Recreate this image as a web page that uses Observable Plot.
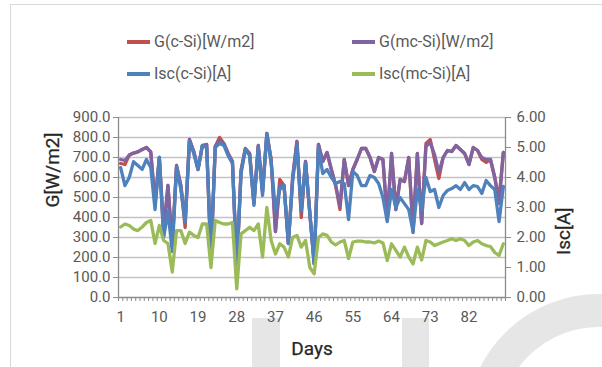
<!DOCTYPE html>
<html><head><meta charset="utf-8">
<script src="https://cdn.jsdelivr.net/npm/d3@7"></script>
<script src="https://cdn.jsdelivr.net/npm/@observablehq/plot@0.6"></script>
<style>
body{margin:0;background:#fff;font-family:Roboto,sans-serif;}
#wrap{position:relative;width:602px;height:367px;overflow:hidden;background:#fff;}
.wm{position:absolute;background:#e6e6e6;}
#arc{position:absolute;left:466px;top:294px;width:200px;height:200px;border:33px solid #e6e6e6;border-radius:50%;}
#frame{position:absolute;left:10px;top:4px;width:600px;height:400px;border-left:1px solid #d9d9d9;border-top:1px solid #d9d9d9;}
.li{position:absolute;font-size:16px;color:#595959;line-height:18px;white-space:nowrap;}
.sw{display:inline-block;width:23px;height:4px;vertical-align:middle;margin-right:4px;position:relative;top:-1px;}
#chart{position:absolute;left:0;top:95px;}
</style></head>
<body><div id="wrap">
<div class="wm" style="left:252px;top:318px;width:28px;height:49px"></div>
<div class="wm" style="left:402px;top:318px;width:27px;height:49px"></div>
<div id="arc"></div>
<div id="frame"></div>
<div id="legend"></div>
<div id="chart"></div>
</div>
<script>
const days = d3.range(1, 91);
const seriesNames = ["G(c-Si)[W/m2]", "G(mc-Si)[W/m2]", "Isc(c-Si)[A]", "Isc(mc-Si)[A]"];
const seriesColors = ["#C0504D", "#8064A2", "#4F81BD", "#9BBB59"];
const gCSi = [670,665,712,722,728,740,750,728,470,700,
 310,560,260,660,560,350,790,730,640,760,
 765,200,755,800,770,720,680,150,635,745,
 720,470,760,530,820,690,330,590,560,270,
 600,780,400,680,420,170,765,680,725,640,
 560,440,690,560,640,690,745,745,700,630,
 700,690,390,720,440,590,580,700,325,720,
 370,770,790,690,595,700,735,730,760,740,
 720,665,750,735,690,675,690,600,490,725];
const gMcSi = [690,685,712,722,728,740,750,728,470,700,
 340,560,260,660,560,380,790,730,640,760,
 765,200,755,785,770,720,680,150,635,745,
 720,470,760,530,820,690,330,560,560,270,
 600,780,430,680,420,170,765,680,725,640,
 560,460,690,560,640,690,745,745,700,630,
 700,690,390,720,440,590,580,700,340,720,
 370,755,775,715,625,700,735,730,760,740,
 720,665,750,735,700,690,690,600,470,725];
const iscCSi = [4.33,3.73,4.00,4.53,4.40,4.27,4.60,4.33,2.93,4.67,
 2.00,2.87,1.53,4.33,3.60,2.53,5.20,4.80,4.27,5.07,
 5.00,1.40,5.00,5.13,5.07,4.73,4.47,1.00,4.13,4.93,
 4.73,3.07,5.00,3.40,5.47,4.47,2.93,3.60,3.73,1.80,
 3.87,5.07,2.93,4.47,2.80,1.13,5.00,4.13,4.27,4.00,
 3.80,3.87,3.80,2.60,4.20,4.07,3.73,3.73,4.07,4.00,
 3.80,3.33,2.53,3.60,3.00,3.33,3.13,2.93,2.20,3.60,
 2.93,4.00,3.53,3.60,3.00,3.40,3.57,3.63,3.73,3.60,
 3.83,3.60,3.73,3.70,3.47,3.90,3.73,3.60,2.53,3.70];
const iscMcSi = [2.35,2.45,2.40,2.28,2.23,2.35,2.50,2.57,1.80,2.40,
 1.90,1.80,0.85,2.23,2.23,1.80,2.18,2.07,2.00,2.45,
 2.45,1.00,2.57,2.50,2.45,2.45,2.50,0.29,2.12,2.23,
 2.34,2.23,2.45,1.35,3.00,1.90,1.45,1.79,1.68,1.35,
 2.00,2.07,1.68,1.90,1.00,0.79,2.00,2.12,2.07,1.85,
 1.75,1.85,1.90,1.30,1.85,1.88,1.88,1.85,1.85,1.82,
 1.88,1.82,1.23,1.79,1.57,1.35,1.68,1.35,1.12,1.68,
 1.25,1.90,1.85,1.73,1.79,1.85,1.90,1.96,1.90,1.96,
 1.90,1.73,1.85,1.90,1.79,1.73,1.70,1.50,1.40,1.79];
const xTickLabels = [1, 10, 19, 28, 37, 46, 55, 64, 73, 82];
const gTicks = [0, 100, 200, 300, 400, 500, 600, 700, 800, 900];
const iscTicks = [0, 1, 2, 3, 4, 5, 6];
const ratio = 900 / 6;

// legend
const legendPos = [[127, 33], [352, 33], [127, 65], [352, 65]];
const legend = document.getElementById("legend");
seriesNames.forEach((n, i) => {
  const el = document.createElement("div");
  el.className = "li";
  el.style.left = legendPos[i][0] + "px";
  el.style.top = legendPos[i][1] + "px";
  el.innerHTML = `<span class="sw" style="background:${seriesColors[i]}"></span>${n}`;
  legend.appendChild(el);
});

const data = days.map((d, i) => ({day: d, gc: gCSi[i], gm: gMcSi[i], ic: iscCSi[i] * ratio, im: iscMcSi[i] * ratio}));
const ys = ["gc", "gm", "ic", "im"];
const titleStyle = {fontSize: 19, fontWeight: "normal", fill: "#262626", stroke: "#262626", strokeWidth: 0.25};

const chart = Plot.plot({
  width: 602, height: 272,
  marginLeft: 118, marginRight: 97, marginTop: 22, marginBottom: 70,
  x: {domain: [0.5, 90.5]},
  y: {domain: [0, 900]},
  style: {fontFamily: "Roboto, sans-serif", fontSize: "15px", color: "#595959", background: "transparent", overflow: "visible"},
  marks: [
    Plot.ruleY(gTicks.slice(1), {stroke: "#c3c3c3", strokeWidth: 1.3}),
    Plot.ruleX([0.5, 90.5], {stroke: "#8c8c8c", strokeWidth: 1.3}),
    Plot.ruleY([0], {stroke: "#8c8c8c", strokeWidth: 1.3}),
    Plot.axisY({ticks: gTicks, tickFormat: d => d.toFixed(1), tickSize: 5, tickPadding: 3, label: null, stroke: "#8c8c8c", fill: "#595959", fontSize: 15}),
    Plot.axisY({anchor: "right", ticks: iscTicks.map(v => v * ratio), tickFormat: d => (d / ratio).toFixed(2), tickSize: 5, tickPadding: 6, label: null, stroke: "#8c8c8c", fill: "#595959", fontSize: 15}),
    Plot.axisX({ticks: d3.range(0.5, 91, 1), tickSize: 4, tickFormat: () => "", label: null, stroke: "#8c8c8c"}),
    Plot.axisX({ticks: xTickLabels, tickSize: 0, tickPadding: 14, label: null, fill: "#595959", fontSize: 15}),
    ...ys.map((k, i) => Plot.lineY(data, {x: "day", y: k, stroke: seriesColors[i], strokeWidth: 3.3, strokeLinejoin: "round"})),
    Plot.text(["G[W/m2]"], {text: d => d, frameAnchor: "left", dx: -66, rotate: -90, ...titleStyle}),
    Plot.text(["Isc[A]"], {text: d => d, frameAnchor: "right", dx: 58, rotate: -90, ...titleStyle}),
    Plot.text(["Days"], {text: d => d, frameAnchor: "bottom", dy: 57, ...titleStyle})
  ]
});
document.getElementById("chart").appendChild(chart);
</script>
</body></html>
